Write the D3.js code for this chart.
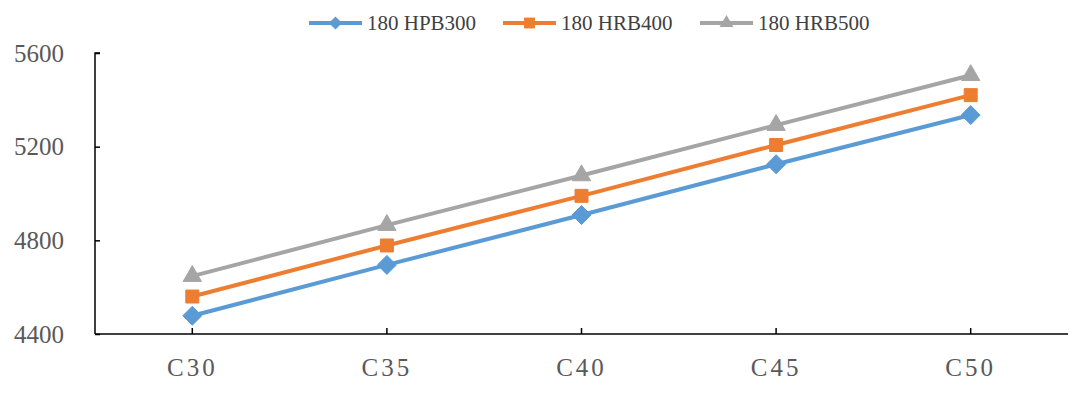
<!DOCTYPE html>
<html><head><meta charset="utf-8">
<script src="https://cdn.jsdelivr.net/npm/d3@7"></script>
<style>html,body{margin:0;padding:0;background:#fff;}svg{display:block;}</style>
</head><body>
<svg id="chart" width="1080" height="393"></svg>
<script>
const categories = ["C30", "C35", "C40", "C45", "C50"];
const seriesNames = ["180 HPB300", "180 HRB400", "180 HRB500"];
const hpb300 = [4478, 4695, 4908, 5125, 5335];
const hrb400 = [4560, 4778, 4990, 5207, 5420];
const hrb500 = [4647, 4865, 5077, 5292, 5505];
const yTicks = [4400, 4800, 5200, 5600];

const colors = ["#5B9BD5", "#ED7D31", "#A5A5A5"];
const markers = [d3.symbolDiamond2, d3.symbolSquare2, d3.symbolTriangle2];
const series = [hpb300, hrb400, hrb500].map((v, i) => ({name: seriesNames[i], values: v, color: colors[i], marker: markers[i]}));

const svg = d3.select("#chart");
const mLeft = 95, mRight = 1068, mTop = 53, mBottom = 334;
const x = d3.scaleBand().domain(categories).range([mLeft, mRight]);
const y = d3.scaleLinear().domain([4400, 5600]).range([mBottom, mTop]);
const cx = c => x(c) + x.bandwidth() / 2;
const serif = "'Liberation Serif', 'Times New Roman', serif";

// Y axis
const yAxis = svg.append("g").attr("transform", `translate(${mLeft},0)`)
  .call(d3.axisRight(y).tickValues(yTicks).tickSize(5).tickFormat(d3.format("d")));
yAxis.select(".domain").attr("d", `M5,${mTop}H0V${mBottom}`).attr("stroke", "#000").attr("stroke-width", 1.5);
yAxis.selectAll(".tick line").attr("stroke", "#000").attr("stroke-width", 1.5);
yAxis.selectAll(".tick text").attr("x", -31).attr("text-anchor", "end")
  .attr("font-family", serif).attr("font-size", 25).attr("fill", "#595959");

// X axis
const xAxis = svg.append("g").attr("transform", `translate(0,${mBottom})`)
  .call(d3.axisTop(x).tickSize(6));
xAxis.select(".domain").attr("d", `M${mLeft},0H${mRight}`).attr("stroke", "#000").attr("stroke-width", 1.5);
xAxis.selectAll(".tick line").attr("stroke", "#000").attr("stroke-width", 1.5);
xAxis.selectAll(".tick text").attr("y", 42).attr("dy", 0)
  .attr("font-family", serif).attr("font-size", 25)
  .attr("letter-spacing", "3px").attr("fill", "#595959").attr("text-anchor", "middle");

// Lines
const line = d3.line().x((d, i) => cx(categories[i])).y(d => y(d));
const sizes = [230, 215, 240];
series.forEach((s, si) => {
  svg.append("path").datum(s.values).attr("d", line)
    .attr("fill", "none").attr("stroke", s.color).attr("stroke-width", 4).attr("stroke-linejoin", "round");
  svg.append("g").selectAll("path").data(s.values).join("path")
    .attr("transform", (d, i) => `translate(${cx(categories[i])},${y(d)})`)
    .attr("d", d3.symbol().type(s.marker).size(sizes[si]))
    .attr("fill", s.color).attr("stroke", s.color).attr("stroke-width", 1);
});

// Legend
const legendX = [309, 503, 700];
const legSizes = [110, 150, 140];
series.forEach((s, i) => {
  const g = svg.append("g").attr("transform", `translate(${legendX[i]},23)`);
  g.append("line").attr("x1", 0).attr("x2", 53).attr("y1", 0).attr("y2", 0)
    .attr("stroke", s.color).attr("stroke-width", 4);
  g.append("path").attr("transform", "translate(26.5,0)")
    .attr("d", d3.symbol().type(s.marker).size(legSizes[i])).attr("fill", s.color);
  g.append("text").attr("x", 58).attr("y", 0).attr("dy", "0.35em")
    .attr("font-family", serif).attr("font-size", 21)
    .attr("fill", "#404040").text(s.name);
});
</script>
</body></html>
